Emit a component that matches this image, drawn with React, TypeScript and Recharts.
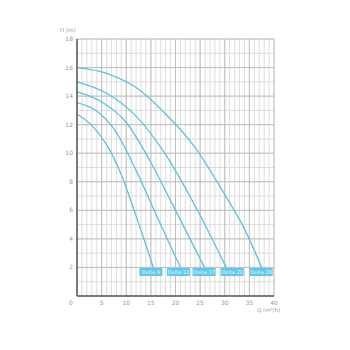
import { LineChart, Line, XAxis, YAxis, CartesianGrid, ReferenceDot, ReferenceLine } from "recharts";

// pump curves, Q (m³/h) vs H (m)
const delta8 = [
  { q: 0, h: 12.75 }, { q: 3, h: 11.95 }, { q: 6, h: 10.6 }, { q: 9, h: 8.5 },
  { q: 12, h: 5.6 }, { q: 15.5, h: 2.0 },
];
const delta12 = [
  { q: 0, h: 13.55 }, { q: 4, h: 12.95 }, { q: 8, h: 11.45 }, { q: 12, h: 8.8 },
  { q: 16, h: 5.75 }, { q: 21, h: 2.0 },
];
const delta17 = [
  { q: 0, h: 14.3 }, { q: 5, h: 13.6 }, { q: 10, h: 12.15 }, { q: 15, h: 9.35 },
  { q: 20, h: 6.0 }, { q: 25.9, h: 2.0 },
];
const delta22 = [
  { q: 0, h: 15 }, { q: 6, h: 14.2 }, { q: 12, h: 12.6 }, { q: 18, h: 9.9 },
  { q: 24, h: 6.3 }, { q: 30.3, h: 2.0 },
];
const delta28 = [
  { q: 0, h: 16 }, { q: 6, h: 15.6 }, { q: 12, h: 14.6 }, { q: 18, h: 12.75 },
  { q: 24, h: 10.4 }, { q: 30, h: 7.1 }, { q: 34, h: 4.7 }, { q: 37.5, h: 2.0 },
];
const names = ["Delta 8", "Delta 12", "Delta 17", "Delta 22", "Delta 28"];
const curves = [delta8, delta12, delta17, delta22, delta28];
// where the name tags sit
const tagQ = [15.0, 20.6, 25.8, 31.5, 37.4];
const tagH = 1.68;

const qTicks = Array.from({ length: 41 }, (_, i) => i);
const hTicks = Array.from({ length: 19 }, (_, i) => i);
const qMajor = [5, 10, 15, 20, 25, 30, 35, 40];
const hMajor = [2, 4, 6, 8, 10, 12, 14, 16, 18];

const lineColor = "#5cc3df";
const tagColor = "#5ec9ec";
const textColor = "#999999";

const XTick = (p: any) => {
  const v = p.payload.value;
  if (v % 5 !== 0) return null;
  return (
    <text x={v === 0 ? p.x - 6 : p.x} y={p.y + 9} textAnchor="middle" fontSize={6} fill={textColor}>
      {v}
    </text>
  );
};

const YTick = (p: any) => {
  const v = p.payload.value;
  if (v % 2 !== 0 || v === 0) return null;
  return (
    <text x={p.x - 4} y={p.y + 2} textAnchor="end" fontSize={6} fill={textColor}>
      {v}
    </text>
  );
};

const Tag = (name: string) => (p: any) => (
  <g>
    <rect x={p.cx - 11.5} y={p.cy - 4} width={23} height={8} fill={tagColor} />
    <text x={p.cx} y={p.cy + 1.8} textAnchor="middle" fontSize={5} fill="#e6f7ff">
      {name}
    </text>
  </g>
);

export default function App() {
  return (
    <div style={{ position: "absolute", left: 0, top: 0, width: 350, height: 350, background: "#fff", fontFamily: "DejaVu Sans" }}>
      <LineChart width={350} height={350} margin={{ top: 39, right: 76, bottom: 34, left: 0 }}>
        <CartesianGrid stroke="#d4d4d4" strokeWidth={0.8} />
        {qMajor.map((q) => (
          <ReferenceLine key={"q" + q} x={q} stroke="#b8b8b8" strokeWidth={0.8} />
        ))}
        {hMajor.map((h) => (
          <ReferenceLine key={"h" + h} y={h} stroke="#b8b8b8" strokeWidth={0.8} />
        ))}
        <XAxis
          type="number"
          dataKey="q"
          domain={[0, 40]}
          ticks={qTicks}
          interval={0}
          height={20}
          tick={XTick}
          tickSize={0}
          tickMargin={0}
          tickLine={false}
          axisLine={{ stroke: "#555", strokeWidth: 1.5 }}
        />
        <YAxis
          type="number"
          dataKey="h"
          domain={[0, 18]}
          ticks={hTicks}
          interval={0}
          width={77}
          tick={YTick}
          tickSize={0}
          tickMargin={0}
          tickLine={false}
          axisLine={{ stroke: "#555", strokeWidth: 1.5 }}
        />
        {curves.map((c, i) => (
          <Line
            key={names[i]}
            data={c}
            dataKey="h"
            type="monotone"
            stroke={lineColor}
            strokeWidth={1.3}
            dot={false}
            isAnimationActive={false}
          />
        ))}
        {names.map((n, i) => (
          <ReferenceDot key={"t" + n} x={tagQ[i]} y={tagH} r={0} shape={Tag(n)} />
        ))}
        <text x={60} y={32} fontSize={5.5} fill={textColor}>H (m)</text>
        <text x={257} y={312} fontSize={5.5} fill={textColor}>Q (m³/h)</text>
      </LineChart>
    </div>
  );
}
